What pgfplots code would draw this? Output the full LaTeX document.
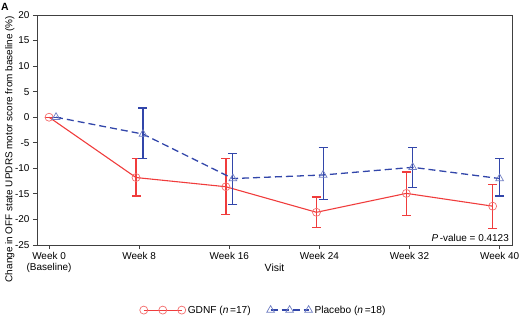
\documentclass[border=0pt]{standalone}
\usepackage{pgfplots}
\pgfplotsset{compat=1.18}
\usepackage{fontspec}
\setmainfont{Liberation Sans}
\definecolor{gred}{RGB}{240,60,60}
\definecolor{pblue}{RGB}{50,70,170}
\begin{document}
\fontsize{10}{12}\selectfont
\begin{tikzpicture}[x=1bp,y=1bp]
\useasboundingbox (0,0) rectangle (519,328);
\node[anchor=north west,inner sep=0pt,font=\bfseries\fontsize{10.5}{12}\selectfont] at (1,325) {A};
\begin{axis}[
  at={(37bp,83bp)}, anchor=south west,
  scale only axis, width=475bp, height=230bp,
  xmin=-1.07, xmax=41.1, ymin=-25, ymax=20,
  xtick={0,8,16,24,32,40},
  xticklabels={{Week 0\\(Baseline)},Week 8,Week 16,Week 24,Week 32,Week 40},
  xticklabel style={align=center, font=\fontsize{10}{11}\selectfont},
  ytick={-25,-20,...,20},
  yticklabel style={font=\fontsize{10}{11}\selectfont},
  /pgf/number format/assume math mode=true,
  tick align=outside, xtick pos=bottom, ytick pos=left,
  major tick length=4bp,
  axis line style={black!75, line width=0.9pt},
  tick style={black!75, line width=0.8pt},
  xlabel={Visit},
  xlabel style={at={(axis description cs:0.5,-0.1)}, anchor=center, font=\fontsize{10.5}{12}\selectfont},
  ylabel={Change in OFF state UPDRS motor score from baseline (\%)},
  ylabel style={at={(axis description cs:-0.057,0.417)}, anchor=center, font=\fontsize{10}{12}\selectfont},
  legend style={at={(axis description cs:0.477,-0.283)}, anchor=center, draw=none, legend columns=2,
    font=\fontsize{10.2}{12}\selectfont, /tikz/every even column/.append style={column sep=14bp}},
  legend image code/.code={\draw[#1, mark repeat=1, mark phase=1] plot coordinates {(0bp,0bp) (19bp,0bp) (38bp,0bp)};},
  clip=false,
]
\addplot[gred, line width=1.1pt, mark=o, mark size=4bp,
  mark options={solid, draw=gred!75, line width=0.7pt},
  error bars/.cd, y dir=both, y explicit,
  error bar style={line width=1.2pt, gred},
  error mark options={gred, line width=1.2pt, mark size=4.5bp, rotate=90}]
coordinates {
 (0,0) += (0,0) -= (0,0)
 (7.72,-11.8) += (0,3.8) -= (0,3.6)
 (15.70,-13.6) += (0,5.6) -= (0,5.4)
 (23.74,-18.6) += (0,3.0) -= (0,3.0)
 (31.72,-14.9) += (0,4.2) -= (0,4.4)
 (39.38,-17.4) += (0,4.3) -= (0,4.3)
};
\addlegendentry{GDNF (\textit{n}\,=17)}
\addplot[pblue, line width=1.3pt, dash pattern=on 7bp off 4bp, mark=triangle, mark size=4.5bp,
  mark options={solid, draw=pblue!70, line width=0.7pt},
  error bars/.cd, y dir=both, y explicit,
  error bar style={line width=1.2pt, pblue, solid},
  error mark options={pblue, solid, line width=1.2pt, mark size=4.5bp, rotate=90}]
coordinates {
 (0.62,0) += (0,0) -= (0,0)
 (8.34,-3.3) += (0,5.1) -= (0,4.8)
 (16.32,-12.0) += (0,4.9) -= (0,5.0)
 (24.33,-11.3) += (0,5.3) -= (0,4.8)
 (32.28,-9.8) += (0,3.8) -= (0,3.9)
 (40.0,-12.0) += (0,3.9) -= (0,3.4)
};
\addlegendentry{Placebo (\textit{n}\,=18)}
\node[anchor=south east, inner sep=3bp, font=\fontsize{10}{11}\selectfont] at (rel axis cs:1,0) {\textit{P}\,-value = 0.4123};
\end{axis}
\end{tikzpicture}
\end{document}
